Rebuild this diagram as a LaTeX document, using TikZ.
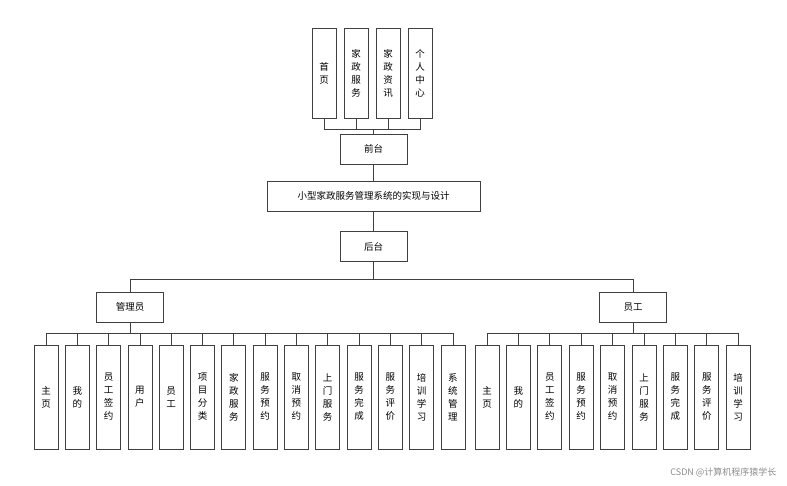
\documentclass[tikz,border=0pt]{standalone}
\usepackage{fontspec}
\newfontfamily\cjk{Noto Sans CJK SC}
\begin{document}
\begin{tikzpicture}[x=1pt,y=-1pt,
  box/.style={draw=black!75,line width=0.8pt,fill=white,font=\cjk\fontsize{9.5}{13}\selectfont,inner sep=0pt},
  hb/.style={box,minimum width=67pt,minimum height=30pt},
  vb/.style={box,minimum width=24pt,minimum height=104pt,align=center},
  tb/.style={box,minimum width=24pt,minimum height=90pt,align=center},
  ln/.style={draw=black!75,line width=0.8pt}]
\useasboundingbox (0,0) rectangle (787,486);
% top
\foreach \x/\t [count=\i] in {324/首\\页, 356/家\\政\\服\\务, 388/家\\政\\资\\讯, 420/个\\人\\中\\心}
  \node[tb] (t\i) at (\x,73) {\t};
\node[hb] (qt) at (373.5,149) {前台};
\node[box,minimum width=213pt,minimum height=30pt] (root) at (373.5,196) {小型家政服务管理系统的实现与设计};
\node[hb] (ht) at (373.5,246.5) {后台};
\node[hb] (gly) at (130,307) {管理员};
\node[hb] (yg) at (633,307) {员工};
\foreach \i in {1,...,4} \draw[ln] (t\i.south) -- ++(0,11) -| (qt.north);
\draw[ln] (qt) -- (root) -- (ht);
\draw[ln] (ht.south) -- ++(0,18) -| (gly.north);
\draw[ln] (ht.south) -- ++(0,18) -| (yg.north);
\foreach \t [count=\i] in {主\\页,我\\的,员\\工\\签\\约,用\\户,员\\工,项\\目\\分\\类,家\\政\\服\\务,服\\务\\预\\约,取\\消\\预\\约,上\\门\\服\\务,服\\务\\完\\成,服\\务\\评\\价,培\\训\\学\\习,系\\统\\管\\理}{
  \node[vb] (a\i) at ({46+(\i-1)*31.3},397) {\t};
  \draw[ln] (gly.south) -- ++(0,11) -| (a\i.north);}
\foreach \t [count=\i] in {主\\页,我\\的,员\\工\\签\\约,服\\务\\预\\约,取\\消\\预\\约,上\\门\\服\\务,服\\务\\完\\成,服\\务\\评\\价,培\\训\\学\\习}{
  \node[vb] (b\i) at ({487+(\i-1)*31.4},397) {\t};
  \draw[ln] (yg.south) -- ++(0,11) -| (b\i.north);}
\node[font=\cjk\fontsize{9}{11}\selectfont,text=black!45,anchor=east] (wm) at (780,472) {CSDN @计算机程序猿学长};
\end{tikzpicture}
\end{document}
